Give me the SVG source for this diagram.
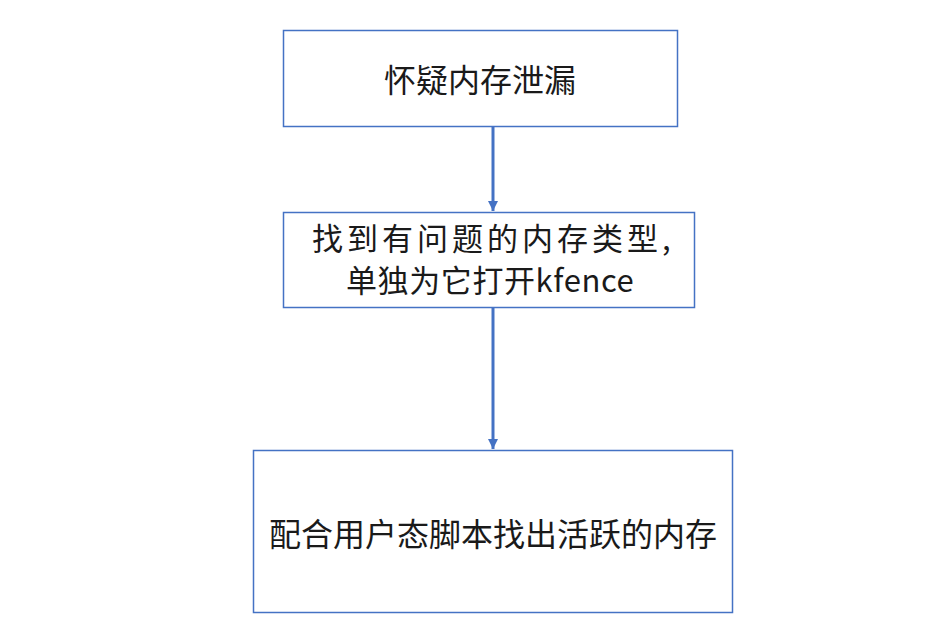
<svg xmlns="http://www.w3.org/2000/svg" width="944" height="637" viewBox="0 0 944 637">
<style>
.box{fill:#fff;stroke:#4472C4;stroke-width:1.5}
.t{font-family:"Noto Sans CJK SC","Liberation Sans",sans-serif;fill:#1a1a1a}
.c{stroke:#4472C4;stroke-width:3;fill:none}
</style>
<defs>
<marker id="ah" viewBox="0 0 10 10" refX="10" refY="5" markerWidth="3.5" markerHeight="3.5" orient="auto" markerUnits="strokeWidth">
<path d="M0,0 L10,5 L0,10 Z" fill="#4472C4"/>
</marker>
</defs>
<rect width="944" height="637" fill="#fff"/>
<g id="connectors">
<line class="c" x1="493" y1="127" x2="493" y2="211" marker-end="url(#ah)"/>
<line class="c" x1="493" y1="308" x2="493" y2="449" marker-end="url(#ah)"/>
</g>
<g id="n1">
<rect class="box" x="283.5" y="30.5" width="394" height="96"/>
<text class="t" x="480" y="92" font-size="32" text-anchor="middle">怀疑内存泄漏</text>
</g>
<g id="n2">
<rect class="box" x="283.5" y="212.5" width="411" height="95"/>
<text class="t" x="312" y="250" font-size="31" letter-spacing="4">找到有问题的内存类型,</text>
<text class="t" x="346" y="292" font-size="31" letter-spacing="0.6">单独为它打开kfence</text>
</g>
<g id="n3">
<rect class="box" x="253.5" y="450.5" width="479" height="162"/>
<text class="t" x="493" y="546" font-size="32" text-anchor="middle">配合用户态脚本找出活跃的内存</text>
</g>
</svg>
